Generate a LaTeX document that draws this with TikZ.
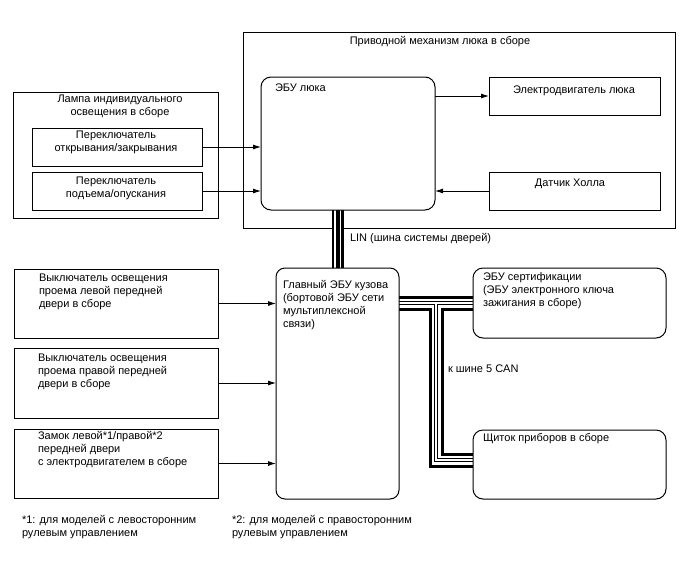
\documentclass[tikz,border=0pt]{standalone}
\usepackage{fontspec}
\setmainfont{Liberation Sans}
\usetikzlibrary{arrows.meta}
\pgfdeclarelayer{bg}
\pgfsetlayers{bg,main}
\newcommand{\mysz}{\fontsize{11}{13.2}\selectfont\setbox\strutbox\hbox{\vrule height 9.3pt depth 3.9pt width 0pt}}
\newcommand{\Ltxt}[1]{\begin{tabular}[t]{@{}l@{}}#1\end{tabular}}
\newcommand{\Ctxt}[1]{\begin{tabular}[t]{@{}c@{}}#1\end{tabular}}
\begin{document}
\begin{tikzpicture}[x=1pt,y=-1pt,
  box/.style={draw, line width=1pt, fill=white, rectangle, inner sep=0pt, outer sep=0pt},
  rbox/.style={box, rounded corners=9pt},
  txt/.style={inner sep=0pt, outer sep=0pt, font=\mysz},
  arr/.style={-{Latex[length=8pt,width=5pt]}, line width=0.9pt},
  lnk/.style={line join=miter, line cap=butt}]
\useasboundingbox (0,0) rectangle (688,560);

\begin{pgfonlayer}{bg}
\node[box, fill=none, minimum width=432pt, minimum height=196pt] (drv) at (459,130) {};
\end{pgfonlayer}

% boxes
\node[rbox, rounded corners=10pt, minimum width=174pt, minimum height=133pt] (ecuL) at (348,143.5) {};
\node[box, minimum width=171pt, minimum height=38pt] (motor) at (574.5,96) {};
\node[box, minimum width=171pt, minimum height=38pt] (hall) at (574.5,191) {};
\node[box, minimum width=205pt, minimum height=126pt] (lamp) at (115.5,155) {};
\node[box, minimum width=170pt, minimum height=38pt] (sw1) at (117,147) {};
\node[box, minimum width=170pt, minimum height=38pt] (sw2) at (117,191) {};
\node[box, minimum width=204pt, minimum height=69pt] (boxA) at (116,303.5) {};
\node[box, minimum width=204pt, minimum height=70pt] (boxB) at (116,383) {};
\node[box, minimum width=204pt, minimum height=69pt] (boxC) at (116,463.5) {};
\node[rbox, minimum width=123pt, minimum height=231pt] (main) at (337.5,383.5) {};
\node[rbox, rounded corners=10pt, minimum width=193pt, minimum height=70pt] (cert) at (569.5,303) {};
\node[rbox, rounded corners=10pt, minimum width=193pt, minimum height=69pt] (dash) at (569.5,464.5) {};

% texts
\node[txt, anchor=base] (tTitle) at (440,44) {Приводной механизм люка в сборе};
\node[txt, anchor=base west] (tEcuL) at (275,91) {ЭБУ люка};
\node[txt, anchor=base] (tMotor) at (574,93) {Электродвигатель люка};
\node[txt, anchor=base] (tHall) at (570,186) {Датчик Холла};
\node[txt, anchor=base] (tLamp) at (120,102) {\Ctxt{Лампа индивидуального\\освещения в сборе}};
\node[txt, anchor=base] (tSw1) at (116,138) {\Ctxt{Переключатель\\открывания/закрывания}};
\node[txt, anchor=base] (tSw2) at (116,184) {\Ctxt{Переключатель\\подъема/опускания}};
\node[txt, anchor=base west] (tA) at (39,281) {\Ltxt{Выключатель освещения\\проема левой передней\\двери в сборе}};
\node[txt, anchor=base west] (tB) at (38,361) {\Ltxt{Выключатель освещения\\проема правой передней\\двери в сборе}};
\node[txt, anchor=base west] (tC) at (38,439) {\Ltxt{Замок левой*1/правой*2\\передней двери\\с электродвигателем в сборе}};
\node[txt, anchor=base west] (tMain) at (283,288) {\Ltxt{Главный ЭБУ кузова\\(бортовой ЭБУ сети\\мультиплексной\\связи)}};
\node[txt, anchor=base west] (tCert) at (483,280) {\Ltxt{ЭБУ сертификации\\(ЭБУ электронного ключа\\зажигания в сборе)}};
\node[txt, anchor=base west] (tDash) at (483,441) {Щиток приборов в сборе};
\node[txt, anchor=base west] (tCAN) at (448,372) {к шине 5 CAN};
\node[txt, anchor=base west] (tLIN) at (350,241) {LIN (шина системы дверей)};
\node[txt, anchor=base west] (fn1) at (22,523) {\Ltxt{*1: для моделей с левосторонним\\рулевым управлением}};
\node[txt, anchor=base west] (fn2) at (232,523) {\Ltxt{*2: для моделей с правосторонним\\рулевым управлением}};

% arrows
\draw[arr] (sw1.east) -- (sw1.east -| ecuL.west);
\draw[arr] (sw2.east) -- (sw2.east -| ecuL.west);
\draw[arr] (motor.west -| ecuL.east) -- (motor.west);
\draw[arr] (hall.west) -- (hall.west -| ecuL.east);
\draw[arr] (boxA.east) -- (boxA.east -| main.west);
\draw[arr] (boxB.east) -- (boxB.east -| main.west);
\draw[arr] (boxC.east) -- (boxC.east -| main.west);

% buses
\coordinate (j) at (436,303);
\coordinate (k) at (436,460);
\begin{pgfonlayer}{bg}
\foreach \w/\c in {12/black,7/white,4/black}
  \draw[lnk, line width=\w pt, draw=\c] (ecuL.south -| main.north) -- (main.north);
\foreach \w/\c in {15/black,9/white,4/black,1.5/white} {
  \draw[lnk, line width=\w pt, draw=\c] (main.east |- cert.west) -- (cert.west);
  \draw[lnk, line width=\w pt, draw=\c] (j) -- (k) -- (k -| dash.west);
}
\end{pgfonlayer}
\end{tikzpicture}
\end{document}
